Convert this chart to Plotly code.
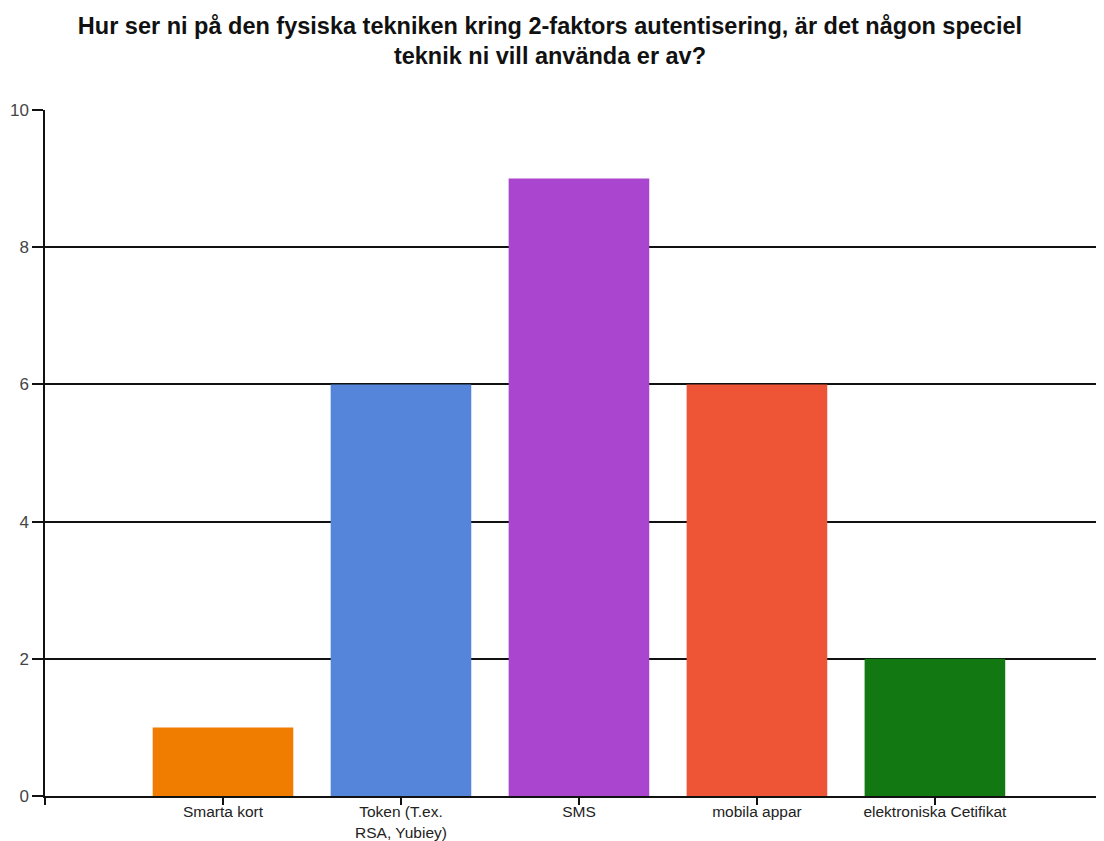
import plotly.graph_objects as go

categories = ["Smarta kort", "Token (T.ex.<br>RSA, Yubiey)", "SMS", "mobila appar", "elektroniska Cetifikat"]
values = [1, 6, 9, 6, 2]
colors = ["#F07C00", "#5585DA", "#AA45CF", "#EE5436", "#127812"]
y_ticks = [0, 2, 4, 6, 8, 10]
title_text = ("Hur ser ni på den fysiska tekniken kring 2-faktors autentisering, är det någon speciel"
              "<br>teknik ni vill använda er av?")

positions = list(range(len(categories)))

fig = go.Figure()
fig.add_trace(go.Bar(
    x=positions,
    y=values,
    width=0.79,
    marker=dict(color=colors, line=dict(width=0)),
    showlegend=False,
))

# page body has an 8px default margin, so the figure is sized to fill the rest of the window
fig.update_layout(
    width=1096,
    height=833,
    paper_bgcolor="white",
    plot_bgcolor="white",
    margin=dict(l=37, r=0, t=102, b=45),
    title=dict(
        text="<b>" + title_text + "</b>",
        x=0.4945,
        xanchor="center",
        y=0.969,
        yanchor="top",
        font=dict(family="Arial, Liberation Sans, sans-serif", size=23.5, color="#111111"),
    ),
    font=dict(family="Arial, Liberation Sans, sans-serif"),
    bargap=0.2,
)

fig.update_xaxes(
    range=[-1, 4.95],
    tickmode="array",
    tickvals=[-1] + positions,
    ticktext=[""] + categories,
    ticks="outside",
    ticklen=7,
    tickwidth=1.5,
    tickcolor="#111111",
    ticklabelstandoff=-6,
    automargin=False,
    showline=True,
    linecolor="#111111",
    linewidth=1.5,
    showgrid=False,
    zeroline=False,
    tickfont=dict(size=15.5, color="#222222"),
    fixedrange=True,
)

fig.update_yaxes(
    range=[0, 10],
    tickmode="array",
    tickvals=y_ticks,
    ticktext=[str(v) for v in y_ticks],
    ticks="outside",
    ticklen=11,
    tickwidth=1.5,
    tickcolor="#111111",
    automargin=False,
    showline=True,
    linecolor="#111111",
    linewidth=1.5,
    showgrid=True,
    gridcolor="#111111",
    gridwidth=2,
    zeroline=False,
    tickfont=dict(size=17, color="#444444"),
    fixedrange=True,
)

fig.write_html("out.html")
